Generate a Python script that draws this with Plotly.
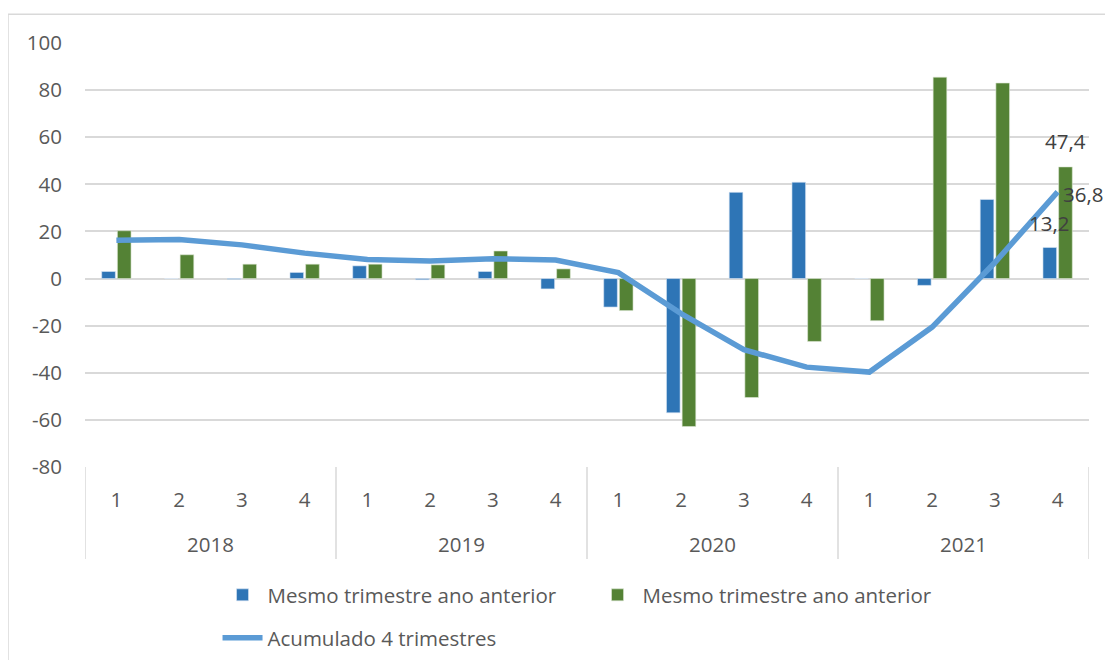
import plotly.graph_objects as go

# trimestres 2018-2021
anos = ['2018', '2019', '2020', '2021']
trimestres = ['1', '2', '3', '4'] * 4

# variacao (%) - mesmo trimestre ano anterior (duas series)
serie_azul = [3.0, 0.0, -0.3, 2.6, 5.4, -0.5, 3.0, -4.4,
              -12.1, -57.0, 36.6, 40.9, 0.0, -2.9, 33.6, 13.2]
serie_verde = [20.3, 10.1, 6.1, 6.1, 6.1, 5.8, 11.7, 4.1,
               -13.6, -62.8, -50.5, -26.7, -17.9, 85.5, 83.0, 47.4]
# acumulado 4 trimestres
acumulado = [16.3, 16.6, 14.3, 10.8, 8.1, 7.4, 8.4, 7.9,
             2.5, -14.9, -30.2, -37.6, -39.7, -20.6, 6.8, 36.8]

y_ticks = [-80, -60, -40, -20, 0, 20, 40, 60, 80, 100]

FONT = 'Open Sans'
FS = 20.5
TXT = '#595959'
GRID = '#D9D9D9'

def fmt(v):
    return ('%.1f' % v).replace('.', ',')

pos = list(range(len(trimestres)))

fig = go.Figure()
fig.add_trace(go.Bar(
    x=pos, y=serie_azul, name='Mesmo trimestre ano anterior',
    marker=dict(color='#2E75B6', line=dict(color='#DCE8F5', width=0.6)),
    legend='legend'))
fig.add_trace(go.Bar(
    x=pos, y=serie_verde, name='Mesmo trimestre ano anterior',
    marker=dict(color='#548235', line=dict(color='#DDE8D5', width=0.6)),
    legend='legend'))
fig.add_trace(go.Scatter(
    x=pos, y=acumulado, name='Acumulado 4 trimestres', mode='lines',
    line=dict(color='#5B9BD5', width=5.5),
    legend='legend2'))

# rotulos de dados do ultimo trimestre
ult = len(pos) - 1
lbl_font = dict(size=FS, color='#404040', family=FONT)
fig.add_annotation(x=ult + 0.13, y=serie_verde[ult], text=fmt(serie_verde[ult]),
                   showarrow=False, yshift=26, font=lbl_font)
fig.add_annotation(x=ult, y=acumulado[ult], text=fmt(acumulado[ult]), xanchor='left',
                   showarrow=False, xshift=3, yshift=-2, font=lbl_font)
fig.add_annotation(x=ult - 0.14, y=serie_azul[ult], text=fmt(serie_azul[ult]),
                   showarrow=False, yshift=24, font=lbl_font)

# rotulos dos anos e divisores
for i, ano in enumerate(anos):
    fig.add_annotation(x=i * 4 + 1.5, y=-0.181, xref='x', yref='paper', text=ano,
                       showarrow=False, yanchor='middle', font=dict(size=FS, color=TXT, family=FONT))
for i in range(len(anos) + 1):
    fig.add_shape(type='line', x0=i * 4 - 0.5, x1=i * 4 - 0.5, xref='x', yref='paper',
                  y0=0, y1=-0.217, line=dict(color=GRID, width=1.5))

# moldura do grafico
fig.add_shape(type='rect', xref='paper', yref='paper', x0=-0.0767, x1=1.2, y0=-0.7, y1=1.068,
              line=dict(color=GRID, width=1.5), layer='below')

fig.update_xaxes(
    range=[-0.5, 15.5],
    tickmode='array', tickvals=pos, ticktext=trimestres,
    showgrid=False, zeroline=False, showline=False,
    ticks='', ticklabelstandoff=18,
    tickfont=dict(size=FS, color=TXT, family=FONT))
fig.update_yaxes(
    range=[-80, 100],
    tickmode='array', tickvals=y_ticks, ticktext=[str(v) for v in y_ticks],
    showgrid=True, gridcolor=GRID, gridwidth=1.5,
    zeroline=False, showline=False,
    ticks='', ticklabelstandoff=22,
    tickfont=dict(size=FS, color=TXT, family=FONT))

fig.update_layout(
    width=1097, height=652,
    margin=dict(l=77, r=16, t=35, b=193),
    barmode='group', bargap=0.5, bargroupgap=0.13,
    paper_bgcolor='white', plot_bgcolor='white',
    font=dict(family=FONT, size=FS, color=TXT),
    legend=dict(orientation='h', x=0.132, y=0.0997, yref='container',
                xanchor='left', yanchor='middle',
                font=dict(size=FS, color=TXT, family=FONT), itemwidth=40,
                entrywidth=320, bgcolor='rgba(0,0,0,0)'),
    legend2=dict(orientation='h', x=0.132, y=0.0337, yref='container',
                 xanchor='left', yanchor='middle',
                 font=dict(size=FS, color=TXT, family=FONT), itemwidth=40,
                 bgcolor='rgba(0,0,0,0)'),
)

fig.write_html("out.html")
